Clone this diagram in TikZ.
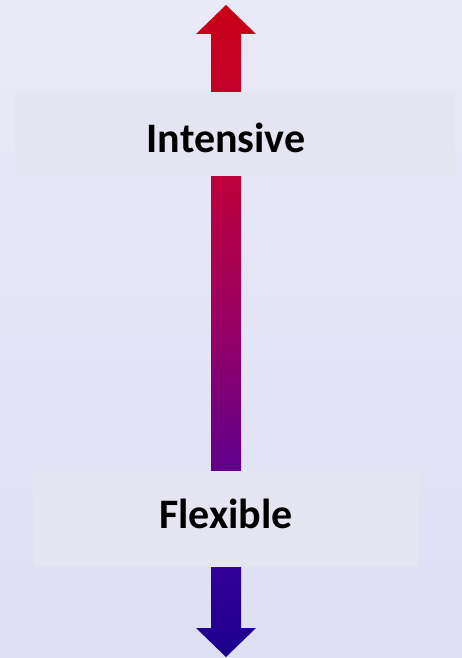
\documentclass[tikz,border=0pt]{standalone}
\usepackage{fontspec}
\setmainfont{Carlito}
\definecolor{bgtop}{RGB}{233,233,247}
\definecolor{bgbot}{RGB}{222,223,243}
\definecolor{boxfill}{RGB}{229,229,241}
\definecolor{cA}{RGB}{200,0,22}
\definecolor{cB}{RGB}{190,0,58}
\definecolor{cC}{RGB}{150,0,100}
\definecolor{cD}{RGB}{96,0,140}
\definecolor{cE}{RGB}{50,0,152}
\definecolor{cF}{RGB}{28,0,140}
% path spans y=5..657 (652px); map to 25bp..75bp
\pgfdeclareverticalshading{arrowshade}{100bp}{%
  color(0bp)=(cF); color(25bp)=(cF); color(31.8bp)=(cE); color(39.4bp)=(cD);
  color(50.1bp)=(cC); color(62bp)=(cB); color(75bp)=(cA); color(100bp)=(cA)}
\begin{document}
\begin{tikzpicture}[x=1pt,y=-1pt,
  labelbox/.style={fill=boxfill, inner sep=0pt, anchor=north west},
  labeltext/.style={font=\fontsize{42}{42}\selectfont\bfseries, text=black}]
\useasboundingbox (0,0) rectangle (462,658);
\shade[top color=bgtop, bottom color=bgbot] (0,0) rectangle (462,658);
\coordinate (top) at (226,5);
\coordinate (bot) at (226,657);
\shade[shading=arrowshade]
  (top) -- ([shift={(30,29)}]top) -- ([shift={(15,29)}]top)
  -- ([shift={(15,-29)}]bot) -- ([shift={(30,-29)}]bot) -- (bot)
  -- ([shift={(-30,-29)}]bot) -- ([shift={(-15,-29)}]bot)
  -- ([shift={(-15,29)}]top) -- ([shift={(-30,29)}]top) -- cycle;
\node[labelbox, minimum width=440pt, minimum height=84pt] (intensive) at (15,92) {};
\node[labeltext] (intensivetext) at ([yshift=-4pt]intensive.center-|top) {Intensive};
\node[labelbox, minimum width=386pt, minimum height=96pt] (flexible) at (33,471) {};
\node[labeltext] (flexibletext) at ([yshift=5pt]flexible.center-|top) {Flexible};
\end{tikzpicture}
\end{document}
